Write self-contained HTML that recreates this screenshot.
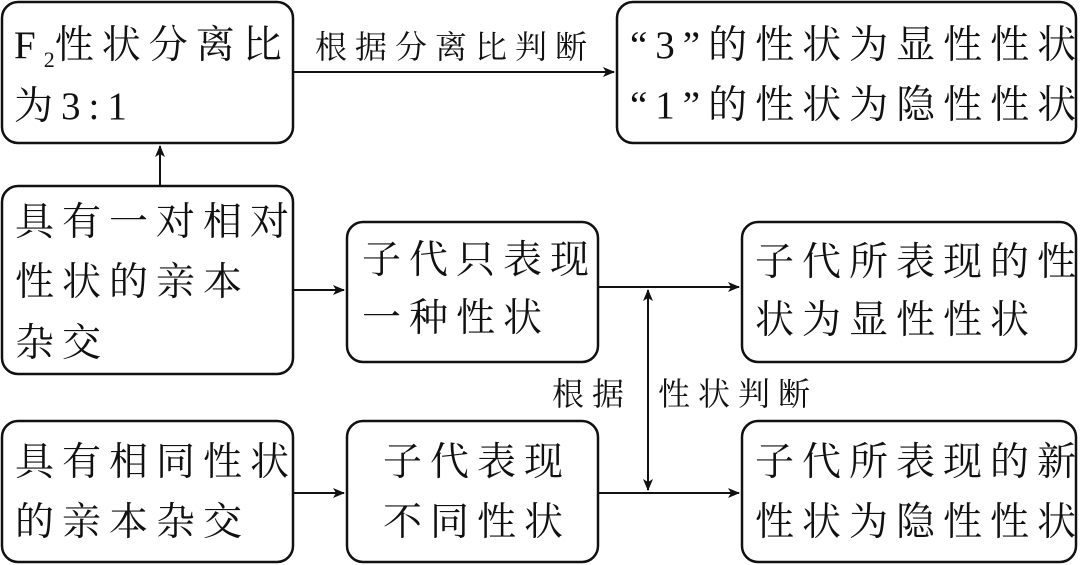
<!DOCTYPE html>
<html><head><meta charset="utf-8"><style>
body{margin:0;background:#fff;width:1080px;height:565px;position:relative;overflow:hidden}
.t{position:absolute;font-family:"Liberation Serif","Noto Serif CJK SC",serif;font-size:39px;letter-spacing:8px;line-height:50px;white-space:nowrap;color:#111}
.s{font-size:32px;letter-spacing:8px}
</style></head><body>
<svg width="1080" height="565" style="position:absolute;left:0;top:0">
<defs><marker id="a" markerWidth="12" markerHeight="10" refX="11" refY="5" orient="auto" markerUnits="userSpaceOnUse"><path d="M0,0 L12,5 L0,10 L3,5 Z" fill="#111"/></marker></defs>
<g fill="none" stroke="#111" stroke-width="2.5">
<rect x="2" y="2" width="291" height="141" rx="16"/>
<rect x="617" y="2" width="459" height="141" rx="16"/>
<rect x="2" y="186" width="291" height="188" rx="16"/>
<rect x="347" y="222" width="251" height="140" rx="16"/>
<rect x="742" y="222" width="334" height="140" rx="16"/>
<rect x="2" y="421" width="291" height="141" rx="16"/>
<rect x="347" y="421" width="251" height="141" rx="16"/>
<rect x="742" y="421" width="334" height="141" rx="16"/>
</g>
<g stroke="#111" stroke-width="2">
<line x1="293" y1="72" x2="614" y2="72" marker-end="url(#a)"/>
<line x1="160" y1="186" x2="160" y2="146" marker-end="url(#a)"/>
<line x1="293" y1="290" x2="344" y2="290" marker-end="url(#a)"/>
<line x1="598" y1="287" x2="739" y2="287" marker-end="url(#a)"/>
<line x1="293" y1="493" x2="344" y2="493" marker-end="url(#a)"/>
<line x1="598" y1="493" x2="739" y2="493" marker-end="url(#a)"/>
<line x1="648" y1="440" x2="648" y2="290" marker-end="url(#a)"/>
<line x1="648" y1="350" x2="648" y2="490" marker-end="url(#a)"/>
</g>
</svg>
<div class="t" style="left:14px;top:21px">F<sub style="font-size:22px;letter-spacing:0">2</sub>性状分离比</div>
<div class="t" style="left:14px;top:82px">为3:1</div>
<div class="t s" style="left:315px;top:22px">根据分离比判断</div>
<div class="t" style="left:630px;top:21px">“3”的性状为显性性状</div>
<div class="t" style="left:630px;top:81px">“1”的性状为隐性性状</div>
<div class="t" style="left:15px;top:198px">具有一对相对</div>
<div class="t" style="left:15px;top:258px">性状的亲本</div>
<div class="t" style="left:15px;top:319px">杂交</div>
<div class="t" style="left:362px;top:236px">子代只表现</div>
<div class="t" style="left:362px;top:294px">一种性状</div>
<div class="t" style="left:755px;top:238px">子代所表现的性</div>
<div class="t" style="left:755px;top:296px">状为显性性状</div>
<div class="t s" style="left:552px;top:369px">根据</div>
<div class="t s" style="left:658px;top:369px">性状判断</div>
<div class="t" style="left:15px;top:438px">具有相同性状</div>
<div class="t" style="left:15px;top:498px">的亲本杂交</div>
<div class="t" style="left:383px;top:438px">子代表现</div>
<div class="t" style="left:383px;top:498px">不同性状</div>
<div class="t" style="left:755px;top:438px">子代所表现的新</div>
<div class="t" style="left:755px;top:498px">性状为隐性性状</div>
</body></html>
